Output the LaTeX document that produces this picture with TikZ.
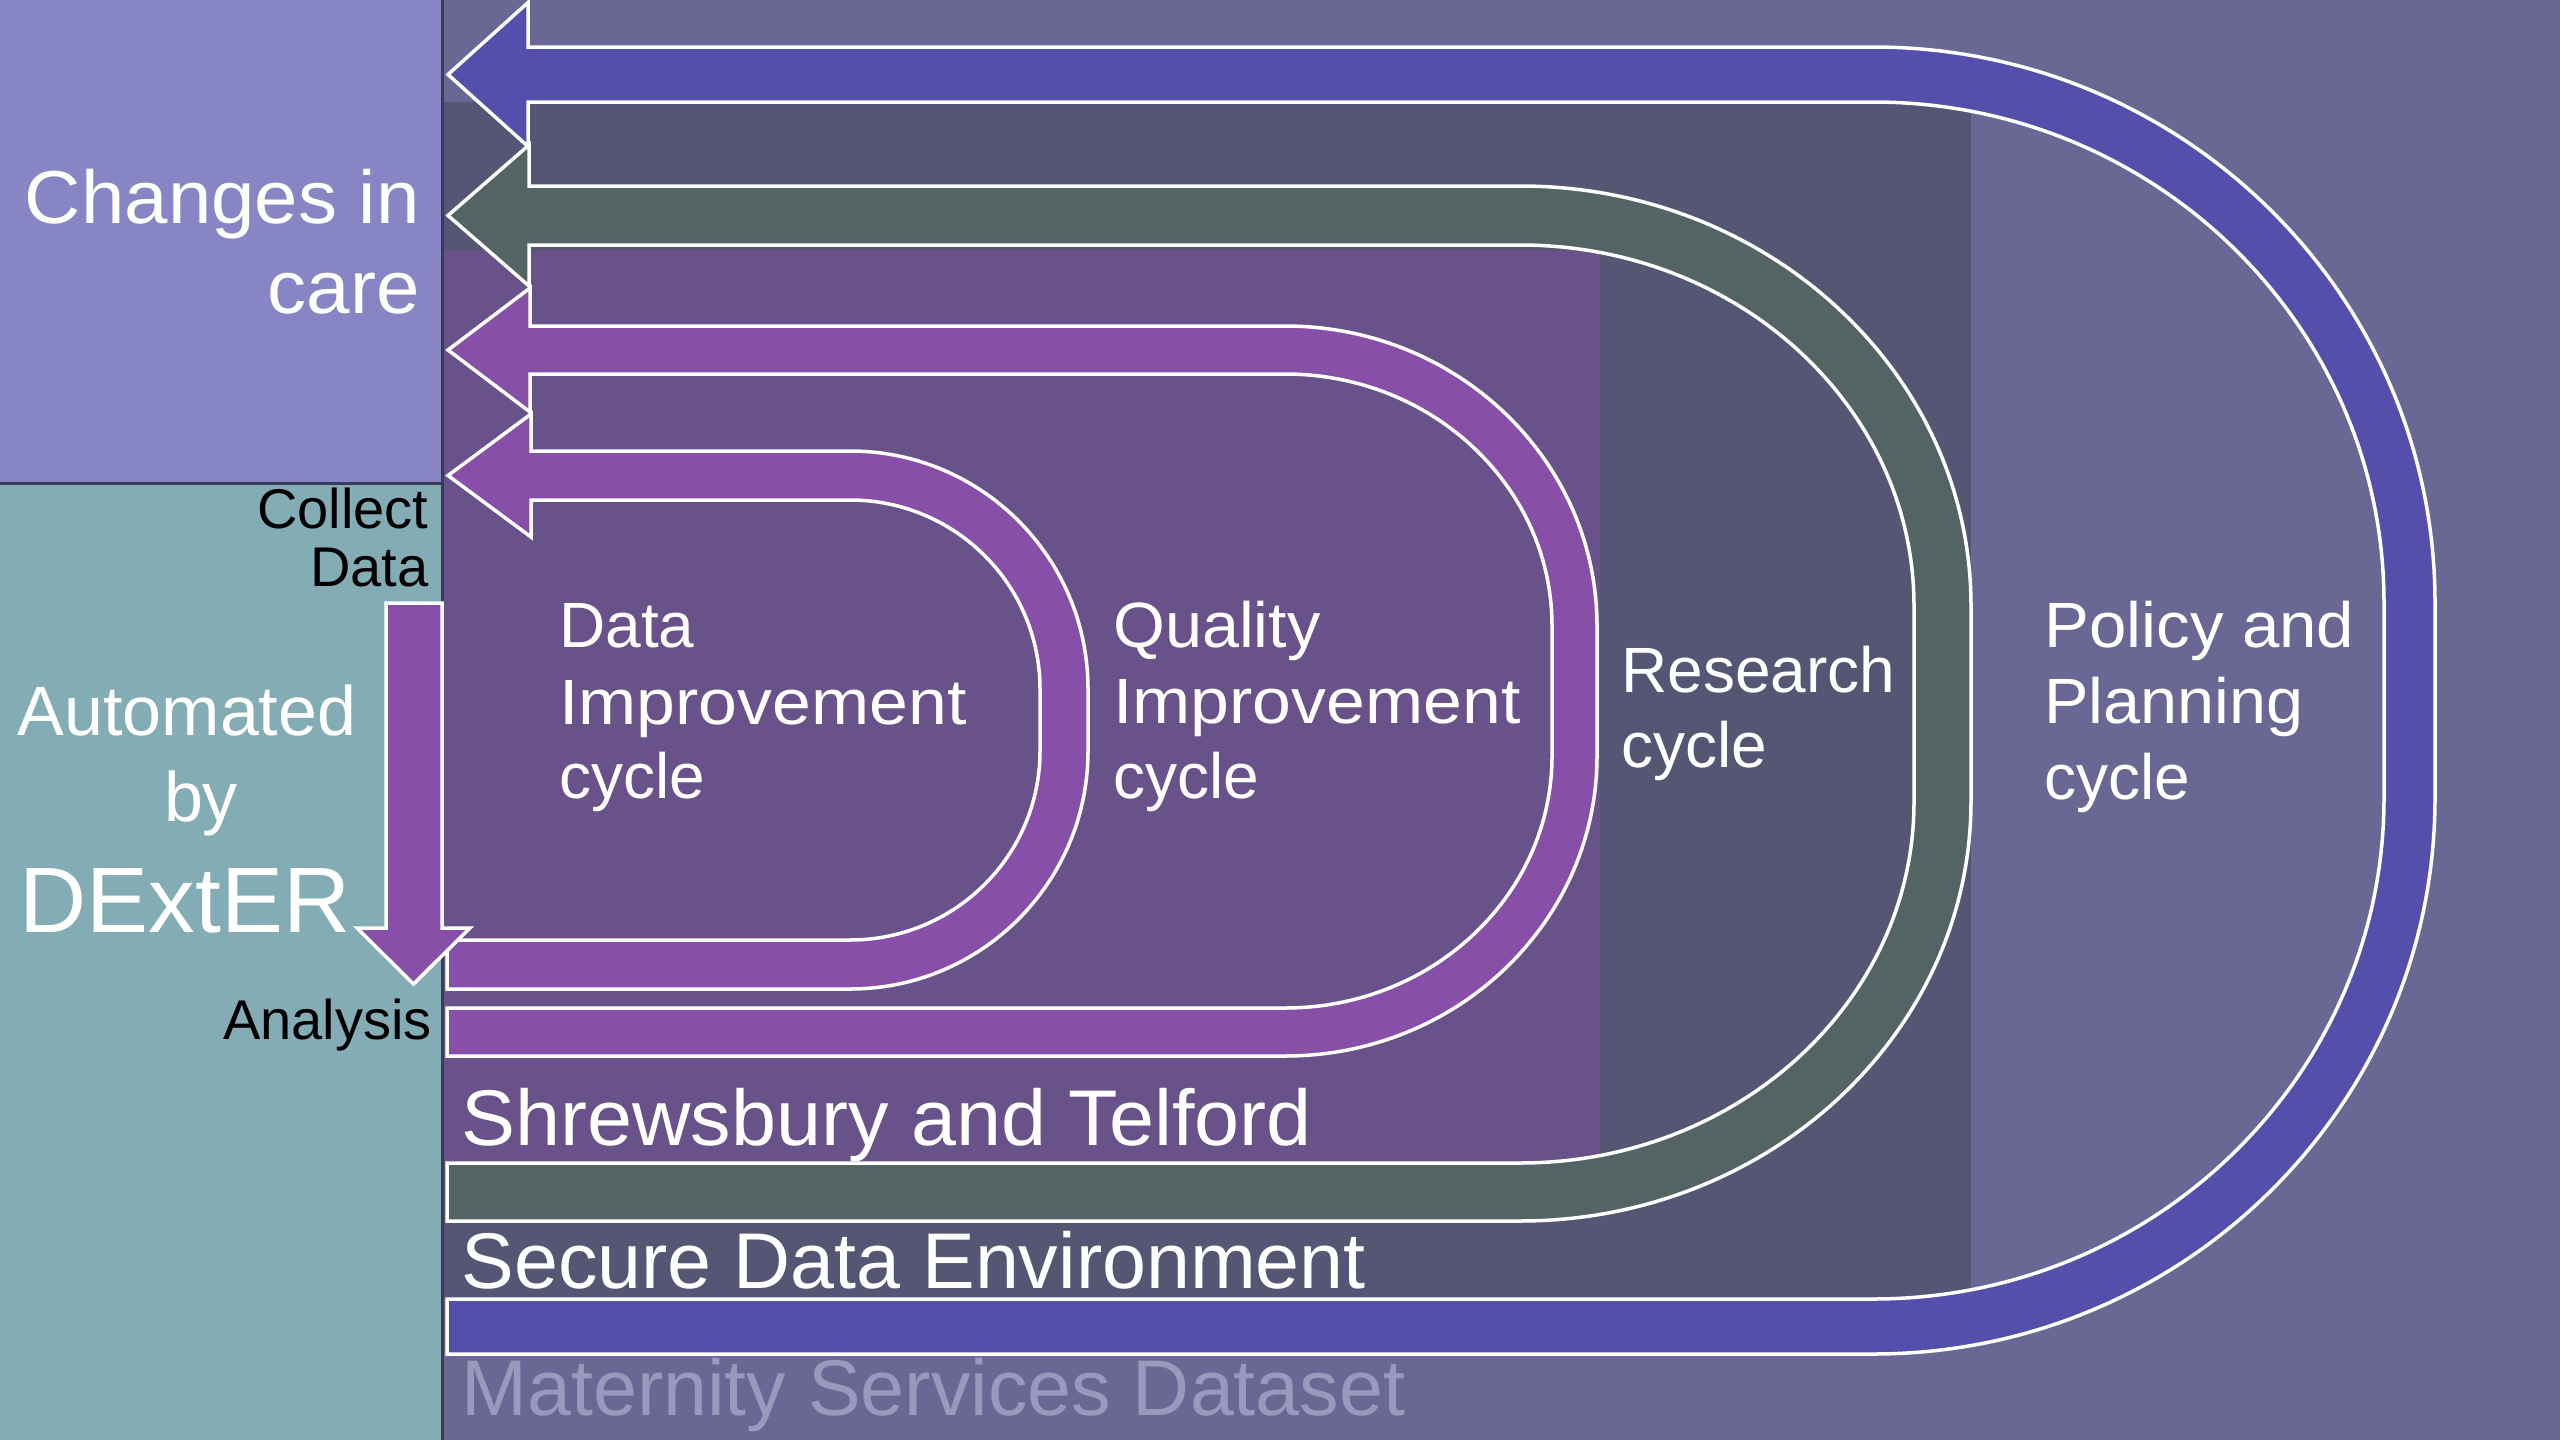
\documentclass[tikz,border=0pt]{standalone}
\usepackage{fontspec}
\setmainfont{Liberation Sans}
\definecolor{bgc}{HTML}{6A6794}
\definecolor{sdec}{HTML}{555673}
\definecolor{shrc}{HTML}{69528A}
\definecolor{carec}{HTML}{8885C5}
\definecolor{autoc}{HTML}{84ACB5}
\definecolor{bluec}{HTML}{534FAB}
\definecolor{greenc}{HTML}{546364}
\definecolor{purc}{HTML}{874FA8}
\definecolor{msdc}{HTML}{9B98BE}
\definecolor{edgec}{HTML}{3B3B5C}
\newcommand{\drawU}[1]{%
\pgfmathsetmacro{\Uxro}{\Uxs+\Urxo}%
\pgfmathsetmacro{\Uxri}{\Uxs+\Urxi}%
\filldraw[band, fill=#1]
 (\ULx,\Utip) -- (\Ubx,{\Utip-\Uhh}) -- (\Ubx,\Ust) -- (\Uxs,\Ust)
 .. controls ({\Uxs+\Ukap*\Urxo},\Ust) and (\Uxro,{\Ust+\Uryo-\Ukap*\Uryo}) .. (\Uxro,{\Ust+\Uryo})
 -- (\Uxro,{\Ubo-\Uryo})
 .. controls (\Uxro,{\Ubo-\Uryo+\Ukap*\Uryo}) and ({\Uxs+\Ukap*\Urxo},\Ubo) .. (\Uxs,\Ubo)
 -- (\ULb,\Ubo) -- (\ULb,\Ubi) -- (\Uxs,\Ubi)
 .. controls ({\Uxs+\Ukap*\Urxi},\Ubi) and (\Uxri,{\Ubi-\Uryi+\Ukap*\Uryi}) .. (\Uxri,{\Ubi-\Uryi})
 -- (\Uxri,{\Usb+\Uryi})
 .. controls (\Uxri,{\Usb+\Uryi-\Ukap*\Uryi}) and ({\Uxs+\Ukap*\Urxi},\Usb) .. (\Uxs,\Usb)
 -- (\Ubx,\Usb) -- (\Ubx,{\Utip+\Uhh}) -- cycle;}
\begin{document}
\begin{tikzpicture}[x=0.5pt,y=-0.5pt,
  band/.style={draw=white,line width=1.75pt,line join=miter},
  lbl/.style={inner sep=0pt,text=white},
  fchg/.style={font={\fontsize{37.5}{45}\selectfont}},
  fsmall/.style={font={\fontsize{28}{34}\selectfont}},
  fauto/.style={font={\fontsize{35}{42}\selectfont}},
  fdex/.style={font={\fontsize{46.5}{56}\selectfont}},
  fcyc/.style={font={\fontsize{32}{38}\selectfont}},
  fbig/.style={font={\fontsize{39.5}{47}\selectfont}}]
\useasboundingbox (0,0) rectangle (2560,1440);
% background regions
\fill[bgc] (0,0) rectangle (2560,1440);
\fill[sdec] (442,102) rectangle (1971,1299);
\fill[shrc] (442,250) rectangle (1600,1162);
% left panel
\fill[carec] (0,0) rectangle (442,483);
\fill[autoc] (0,483) rectangle (442,1440);
\draw[edgec,line width=1.5pt] (0,483) -- (442,483);
\draw[edgec,line width=1.5pt] (442,0) -- (442,1440);
% bands
\def\Ukap{0.5523}
\def\ULx{448}\def\ULb{447}
% blue (policy)
\def\Utip{74.5}\def\Uhh{72}\def\Ubx{528}\def\Ust{47}\def\Usb{102}\def\Ubi{1299}\def\Ubo{1354}
\def\Uxs{1873}\def\Urxo{562}\def\Urxi{511}\def\Uryo{556}\def\Uryi{501}
\drawU{bluec}
% green (research)
\def\Utip{215.5}\def\Uhh{70.5}\def\Ubx{529}\def\Ust{186}\def\Usb{245}\def\Ubi{1163}\def\Ubo{1221}
\def\Uxs{1520}\def\Urxo{451}\def\Urxi{394}\def\Uryo{420}\def\Uryi{361}
\drawU{greenc}
% QI
\def\Utip{350}\def\Uhh{62}\def\Ubx{530}\def\Ust{326}\def\Usb{374}\def\Ubi{1008}\def\Ubo{1056}
\def\Uxs{1285}\def\Urxo{312}\def\Urxi{267}\def\Uryo{300}\def\Uryi{252}
\drawU{purc}
% DI
\def\Utip{475.5}\def\Uhh{61.5}\def\Ubx{531}\def\Ust{451}\def\Usb{500}\def\Ubi{940}\def\Ubo{989}
\def\Uxs{850}\def\Urxo{238}\def\Urxi{190}\def\Uryo{238}\def\Uryi{189}
\drawU{purc}
% down arrow
\filldraw[band, fill=purc] (386,603) -- (442,603) -- (442,928) -- (470,928) -- (413.5,984) -- (357,928) -- (386,928) -- cycle;
% texts left panel
\node[lbl, fchg, anchor=base east] (changes1) at (420,223) {\scalebox{1.04}[1]{Changes in}};
\node[lbl, fchg, anchor=base east] (changes2) at (420,313) {\scalebox{1.04}[1]{care}};
\node[lbl, fsmall, text=black, anchor=base east] (collect1) at (429,528) {Collect};
\node[lbl, fsmall, text=black, anchor=base east] (collect2) at (429,586) {Data};
\node[lbl, fsmall, text=black, anchor=base east] (analysis) at (432,1039) {Analysis};
\node[lbl, fauto, anchor=base] (auto1) at (187,735) {Automated};
\node[lbl, fauto, anchor=base] (auto2) at (201,821) {by};
\node[lbl, fdex, anchor=base] (dexter) at (185,932) {DExtER};
% cycle labels
\node[lbl, fcyc, anchor=base west] (di1) at (559,647) {Data};
\node[lbl, fcyc, anchor=base west] (di2) at (559,724) {\scalebox{1.09}[1]{Improvement}};
\node[lbl, fcyc, anchor=base west] (di3) at (559,798) {cycle};
\node[lbl, fcyc, anchor=base west] (qi1) at (1113,647) {\scalebox{1.04}[1]{Quality}};
\node[lbl, fcyc, anchor=base west] (qi2) at (1113,723) {\scalebox{1.09}[1]{Improvement}};
\node[lbl, fcyc, anchor=base west] (qi3) at (1113,798) {cycle};
\node[lbl, fcyc, anchor=base west] (res1) at (1621,692) {Research};
\node[lbl, fcyc, anchor=base west] (res2) at (1621,767) {cycle};
\node[lbl, fcyc, anchor=base west] (pol1) at (2044,647) {\scalebox{1.05}[1]{Policy and}};
\node[lbl, fcyc, anchor=base west] (pol2) at (2044,723) {\scalebox{1.04}[1]{Planning}};
\node[lbl, fcyc, anchor=base west] (pol3) at (2044,799) {cycle};
% region labels
\node[lbl, fbig, anchor=base west] (shrews) at (461,1145) {\scalebox{1.025}[1]{Shrewsbury and Telford}};
\node[lbl, fbig, anchor=base west] (sde) at (461,1288) {Secure Data Environment};
\node[lbl, fbig, text=msdc, anchor=base west] (msd) at (461,1415) {Maternity Services Dataset};
\end{tikzpicture}
\end{document}
